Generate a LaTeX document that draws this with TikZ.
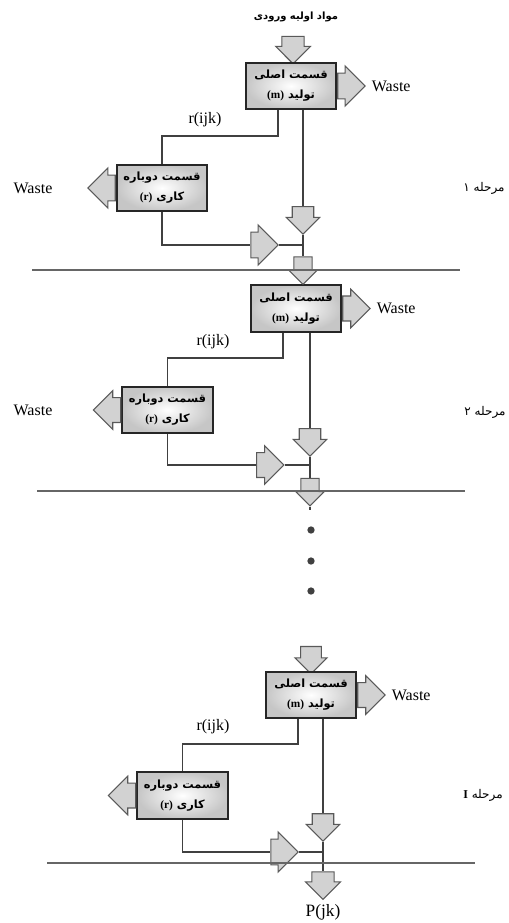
\documentclass[tikz,border=0pt]{standalone}
\usepackage{fontspec}
\setmainfont{Liberation Serif}
\newfontfamily\fafont[Script=Arabic]{DejaVu Sans}
\TeXXeTstate=1
\usetikzlibrary{shapes.arrows,positioning}

\begin{document}
\begin{tikzpicture}[
  x=0.75pt, y=-0.75pt,
  part/.style={draw=black!85, line width=1.3pt, inner color=white,
    outer color=gray!45, minimum width=68pt, minimum height=35pt,
    align=center, font=\fafont\bfseries\fontsize{8.5}{15}\selectfont},
  barrow/.style={single arrow, draw=black!65, fill=gray!35, line width=0.8pt,
    inner xsep=0pt, inner ysep=6.5pt, minimum height=20.5pt,
    single arrow head extend=3.8pt, minimum width=25pt},
  link/.style={draw=black!75, line width=0.9pt},
  sep/.style={draw=black!60, line width=1pt},
  lbl/.style={font=\fontsize{12}{14}\selectfont},
  note/.style={font=\fafont\bfseries\fontsize{7.5}{9}\selectfont},
  stage/.style={font=\fafont\fontsize{9}{11}\selectfont},
  dot/.style={circle, fill=black!75, inner sep=0pt, minimum size=5.5pt}
]
\useasboundingbox (0,0) rectangle (509,923);
% Stage 1
\node[note] (IN) at (296,17) {\beginR مواد اولیه ورودی\endR};
\node[barrow, rotate=-90, minimum width=26pt] (A1) at (293,44.5) {};
\node[part] (MP1) at (291,86) {\beginR قسمت اصلی\endR\\ \beginR تولید \beginL{\rmfamily\bfseries(m)}\endL\endR};
\node[barrow, anchor=tail, minimum width=30pt] (WR1) at (MP1.east) {};
\node[lbl, right=1pt of WR1.tip] (WT1) {Waste};
\node[lbl] (RJ1) at (205,120) {r(ijk)};
\node[part] (RW1) at (162,188) {\beginR قسمت دوباره\endR\\ \beginR کاری \beginL{\rmfamily\bfseries(r)}\endL\endR};
\node[barrow, rotate=180, anchor=tail, minimum width=30pt] (WL1) at (RW1.west) {};
\node[lbl] (WS1) at (33,188) {Waste};
\node[stage] (ST1) at (484,188) {\beginR مرحله ۱\endR};
\node[barrow, rotate=-90] (DA1) at (303,215) {};
\node[barrow, minimum width=30pt] (RA1) at (258,245) {};
\coordinate (J1) at (303,245);
\coordinate (K1) at (278,136);
\draw[link] (K1 |- MP1.south) -- (K1) -| (RW1.north);
\draw[link] (DA1.tail |- MP1.south) -- (DA1.tail);
\draw[link] (RW1.south) |- (RA1.tail);
\draw[link] (RA1.tip) -- (J1);
\node[barrow, rotate=-90, minimum width=17pt] (DB1) at (303,266) {};
\draw[link] (DA1.tip) -- (DB1.tail);
\draw[sep] (32,270) -- (460,270);
% Stage 2
\node[part] (MP2) at (296,308.5) {\beginR قسمت اصلی\endR\\ \beginR تولید \beginL{\rmfamily\bfseries(m)}\endL\endR};
\draw[link] (DB1.tip) -- (DB1.tip |- MP2.north);
\node[barrow, anchor=tail, minimum width=29pt] (WR2) at (MP2.east) {};
\node[lbl, right=1pt of WR2.tip] (WT2) {Waste};
\node[lbl] (RJ2) at (213,342) {r(ijk)};
\node[part] (RW2) at (167.5,410) {\beginR قسمت دوباره\endR\\ \beginR کاری \beginL{\rmfamily\bfseries(r)}\endL\endR};
\node[barrow, rotate=180, anchor=tail, minimum width=29pt] (WL2) at (RW2.west) {};
\node[lbl] (WS2) at (33,410) {Waste};
\node[stage] (ST2) at (485,412) {\beginR مرحله ۲\endR};
\node[barrow, rotate=-90] (DA2) at (310,437) {};
\node[barrow, minimum width=29pt] (RA2) at (264,465) {};
\coordinate (J2) at (310,465);
\coordinate (K2) at (283,358);
\coordinate (E2) at (310,510);
\draw[link] (K2 |- MP2.south) -- (K2) -| (RW2.north);
\draw[link] (DA2.tail |- MP2.south) -- (DA2.tail);
\draw[link] (RW2.south) |- (RA2.tail);
\draw[link] (RA2.tip) -- (J2);
\node[barrow, rotate=-90, minimum width=16pt] (DB2) at (310,487.5) {};
\draw[link] (DA2.tip) -- (DB2.tail);
\draw[link] (DB2.tip) -- (E2);
\draw[sep] (37,491) -- (465,491);
% Dots
\node[dot] (D1) at (311,530) {};
\node[dot] (D2) at (311,561) {};
\node[dot] (D3) at (311,591) {};
% Stage I
\node[barrow, rotate=-90, minimum width=24pt] (A3) at (311,655) {};
\node[part] (MP3) at (311,695) {\beginR قسمت اصلی\endR\\ \beginR تولید \beginL{\rmfamily\bfseries(m)}\endL\endR};
\node[barrow, anchor=tail, minimum width=29pt] (WR3) at (MP3.east) {};
\node[lbl, right=1pt of WR3.tip] (WT3) {Waste};
\node[lbl] (RJ3) at (213,727) {r(ijk)};
\node[part] (RW3) at (182.5,795.5) {\beginR قسمت دوباره\endR\\ \beginR کاری \beginL{\rmfamily\bfseries(r)}\endL\endR};
\node[barrow, rotate=180, anchor=tail, minimum width=29pt] (WL3) at (RW3.west) {};
\node[stage] (ST3) at (483,795) {\beginR مرحله \beginL{\rmfamily\bfseries I}\endL\endR};
\node[barrow, rotate=-90] (DA3) at (323,822) {};
\node[barrow, minimum width=30pt] (RA3) at (278,852) {};
\coordinate (J3) at (323,852);
\coordinate (K3) at (298,744);
\draw[link] (K3 |- MP3.south) -- (K3) -| (RW3.north);
\draw[link] (DA3.tail |- MP3.south) -- (DA3.tail);
\draw[link] (RW3.south) |- (RA3.tail);
\draw[link] (RA3.tip) -- (J3);
\node[barrow, rotate=-90, minimum width=26pt] (DB3) at (323,880) {};
\draw[link] (DA3.tip) -- (DB3.tail);
\draw[sep] (47,863) -- (475,863);
\node[lbl, font=\fontsize{13}{15}\selectfont, below=0pt of DB3.tip] (PJ) {P(jk)};
\end{tikzpicture}
\end{document}
